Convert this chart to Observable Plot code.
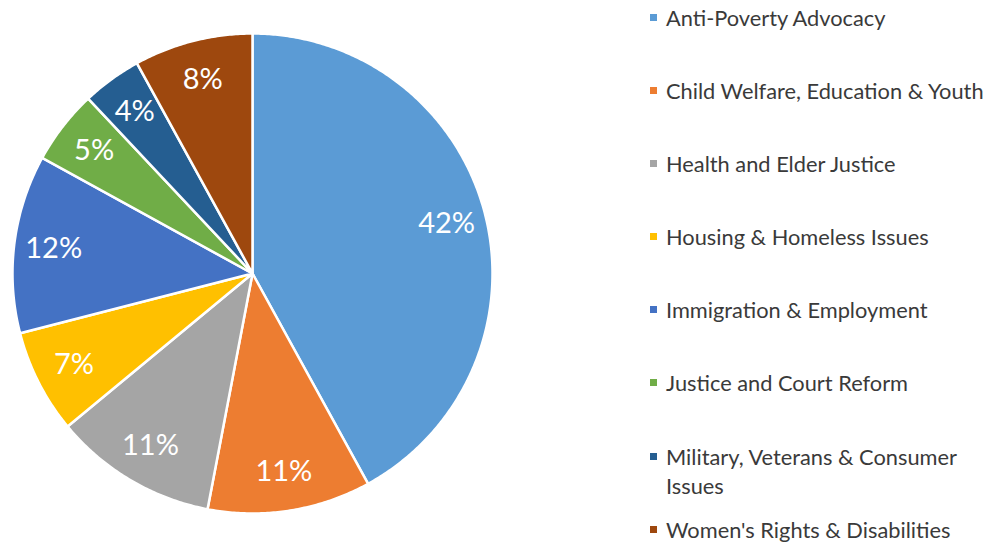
<!DOCTYPE html>
<html>
<head>
<meta charset="utf-8">
<script src="https://cdn.jsdelivr.net/npm/d3@7"></script>
<script src="https://cdn.jsdelivr.net/npm/@observablehq/plot@0.6"></script>
<style>
  html, body { margin: 0; padding: 0; background: #ffffff; }
  #wrap { position: relative; width: 988px; height: 542px; overflow: hidden; font-family: Lato, "Noto Sans", sans-serif; }
  #chart { position: absolute; left: 0; top: 0; }
  #legend { position: absolute; left: 650px; top: 3px; width: 338px; }
  .item { position: relative; height: 73.1px; }
  .sw { position: absolute; left: 0; top: 11px; width: 7px; height: 7px; }
  .lab { position: absolute; left: 16px; top: 0; width: 322px; font-size: 21.8px; line-height: 29px; color: #3a3a3a; }
</style>
</head>
<body>
<div id="wrap">
  <div id="chart"></div>
  <div id="legend"></div>
</div>
<script>
const categories = [
  "Anti-Poverty Advocacy",
  "Child Welfare, Education & Youth",
  "Health and Elder Justice",
  "Housing & Homeless Issues",
  "Immigration & Employment",
  "Justice and Court Reform",
  "Military, Veterans & Consumer Issues",
  "Women's Rights & Disabilities"
];
const values = [42, 11, 11, 7, 12, 5, 4, 8];
const colors = ["#5B9BD5", "#ED7D31", "#A5A5A5", "#FFC000", "#4472C4", "#70AD47", "#255E91", "#9E480E"];

const total = d3.sum(values);
const slices = [];
let acc = 0;
categories.forEach((c, i) => {
  const a0 = acc / total * 2 * Math.PI;
  acc += values[i];
  const a1 = acc / total * 2 * Math.PI;
  slices.push({cat: c, value: values[i], a0, a1, mid: (a0 + a1) / 2});
});

// polygon outline of each slice (center + arc), built from the slice angles
const outline = [];
for (const s of slices) {
  outline.push({cat: s.cat, x: 0, y: 0});
  const n = Math.max(2, Math.ceil((s.a1 - s.a0) / (Math.PI / 360)));
  for (let k = 0; k <= n; k++) {
    const a = s.a0 + (s.a1 - s.a0) * k / n;
    outline.push({cat: s.cat, x: Math.sin(a), y: Math.cos(a)});
  }
}

const labelR = 0.835;
const labels = slices.map(s => ({
  text: s.value + "%",
  x: labelR * Math.sin(s.mid),
  y: labelR * Math.cos(s.mid)
}));

const plot = Plot.plot({
  width: 504,
  height: 542,
  margin: 0,
  x: {domain: [-1.05, 1.05], axis: null},
  y: {domain: [-269 / 240, 273 / 240], axis: null},
  color: {domain: categories, range: colors},
  marks: [
    Plot.line(outline, {
      x: "x", y: "y", z: "cat", fill: "cat",
      stroke: "white", strokeWidth: 2.5, strokeLinejoin: "round",
      curve: "linear-closed"
    }),
    Plot.text(labels, {
      x: "x", y: "y", text: "text",
      fill: "white", fontSize: 29, fontFamily: "Lato"
    })
  ],
  style: {background: "white", overflow: "visible"}
});
document.getElementById("chart").appendChild(plot);

const legend = d3.select("#legend");
categories.forEach((c, i) => {
  const it = legend.append("div").attr("class", "item");
  it.append("div").attr("class", "sw").style("background", colors[i]);
  it.append("div").attr("class", "lab").text(c);
});
</script>
</body>
</html>
